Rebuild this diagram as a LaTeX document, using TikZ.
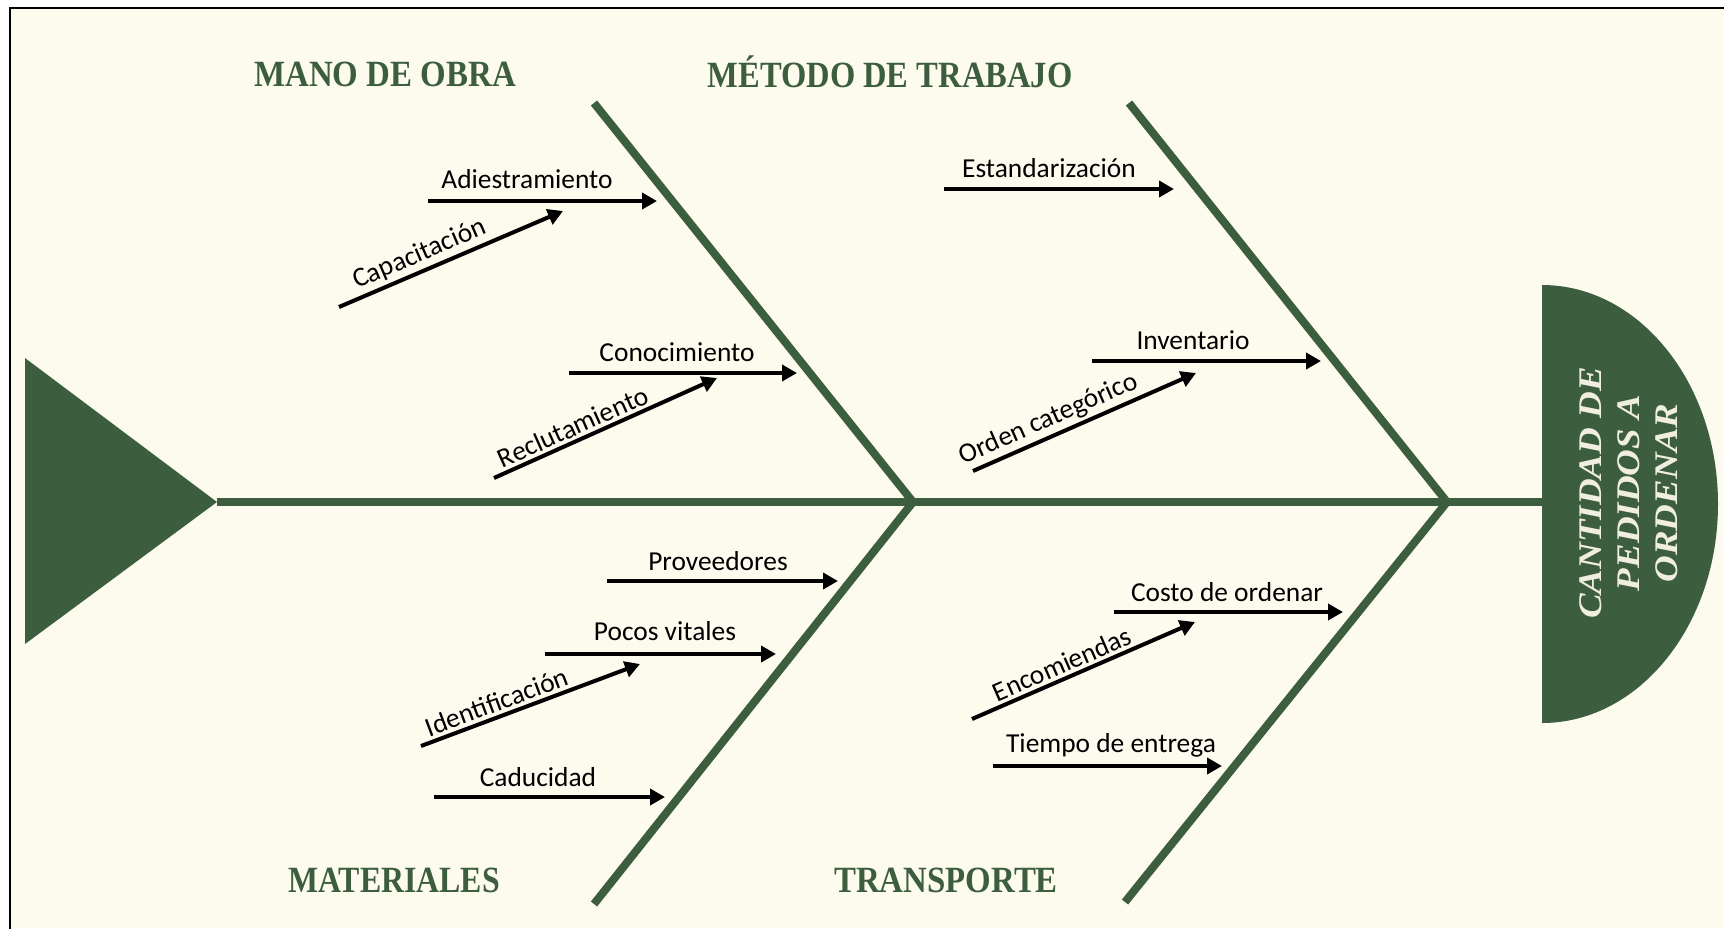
\documentclass[tikz,border=0pt]{standalone}
\usepackage{fontspec}
\setmainfont{Liberation Serif}
\newfontfamily\lblfont{Carlito}
\newfontfamily\capfont{Liberation Serif}[UprightFont={* Bold Italic}, FakeStretch=1.12]
\usetikzlibrary{arrows.meta}
\definecolor{bg}{RGB}{253,251,238}
\definecolor{fishgreen}{RGB}{60,94,62}
\definecolor{captext}{RGB}{240,238,225}
\begin{document}
\begin{tikzpicture}[x=0.5pt,y=-0.5pt,
  bone/.style={draw=fishgreen, line width=4pt},
  arr/.style={draw=black, line width=2pt, -{Triangle[length=7.5pt,width=8pt]}},
  lbl/.style={font=\lblfont\fontsize{13.7}{16}\selectfont, inner sep=0pt, anchor=base},
  slbl/.style={font=\lblfont\fontsize{13.7}{16}\selectfont, sloped, above, inner sep=1.5pt},
  cattitle/.style={font=\bfseries\fontsize{18.5}{22}\selectfont, text=fishgreen, inner sep=0pt, anchor=base}]
\useasboundingbox (0,0) rectangle (1724,928);
\fill[white] (0,0) rectangle (1724,928);
\fill[bg] (10,8) rectangle (1724,928);
\draw[line width=1pt] (10,930) -- (10,8) -- (1726,8);

% head and tail
\coordinate (tail) at (217,502);
\coordinate (head) at (1542,502);
\fill[fishgreen] (25,358) -- (tail) -- (25,644) -- cycle;
\fill[fishgreen] (1542,285) arc[start angle=90,end angle=-90,x radius=88pt,y radius=109.5pt] -- cycle;
\draw[bone] (tail) -- (head);
\node[rotate=90, align=center, text=captext, inner sep=0pt,
  font=\capfont\fontsize{16.5}{19}\selectfont] (effect) at (1629,493)
  {CANTIDAD DE\\PEDIDOS A\\ORDENAR};

% bones
\coordinate (j1) at (913,502);
\coordinate (j2) at (1447,502);
\coordinate (b1t) at (594,103);
\coordinate (b1b) at (594,904);
\coordinate (b2t) at (1129,103);
\coordinate (b2b) at (1125,902);
\draw[bone, line join=miter] (b1t) -- (j1) -- (b1b);
\draw[bone, line join=miter] (b2t) -- (j2) -- (b2b);

% titles
\node[cattitle] (t1) at (385,86) {\scalebox{0.89}[1]{MANO DE OBRA}};
\node[cattitle] (t2) at (890,87) {\scalebox{0.88}[1]{MÉTODO DE TRABAJO}};
\node[cattitle] (t3) at (394,892) {\scalebox{0.86}[1]{MATERIALES}};
\node[cattitle] (t4) at (946,892) {\scalebox{0.89}[1]{TRANSPORTE}};

% Mano de obra
\coordinate (adS) at (428,201); \coordinate (adE) at (657,201);
\draw[arr] (adS) -- (adE);
\node[lbl] (adL) at (527,188) {Adiestramiento};
\coordinate (caS) at (339,307); \coordinate (caE) at (563,211);
\draw[arr] (caS) -- (caE) node[slbl, pos=0.39] (caL) {Capacitación};
\coordinate (coS) at (569,373); \coordinate (coE) at (797,373);
\draw[arr] (coS) -- (coE);
\node[lbl] (coL) at (677,361) {Conocimiento};
\coordinate (reS) at (494,478); \coordinate (reE) at (717,378);
\draw[arr] (reS) -- (reE) node[slbl, pos=0.38] (reL) {Reclutamiento};

% Metodo de trabajo
\coordinate (esS) at (944,189); \coordinate (esE) at (1174,189);
\draw[arr] (esS) -- (esE);
\node[lbl] (esL) at (1049,177) {Estandarización};
\coordinate (inS) at (1092,361); \coordinate (inE) at (1321,361);
\draw[arr] (inS) -- (inE);
\node[lbl] (inL) at (1193,349) {Inventario};
\coordinate (orS) at (973,471); \coordinate (orE) at (1196,373);
\draw[arr] (orS) -- (orE) node[slbl, pos=0.37] (orL) {Orden categórico};

% Materiales
\coordinate (prS) at (607,581); \coordinate (prE) at (838,581);
\draw[arr] (prS) -- (prE);
\node[lbl] (prL) at (718,570) {Proveedores};
\coordinate (poS) at (545,654); \coordinate (poE) at (776,654);
\draw[arr] (poS) -- (poE);
\node[lbl] (poL) at (665,640) {Pocos vitales};
\coordinate (idS) at (421,746); \coordinate (idE) at (640,664);
\draw[arr] (idS) -- (idE) node[slbl, pos=0.37] (idL) {Identificación};
\coordinate (cdS) at (434,797); \coordinate (cdE) at (665,797);
\draw[arr] (cdS) -- (cdE);
\node[lbl] (cdL) at (538,786) {Caducidad};

% Transporte
\coordinate (cosS) at (1114,612); \coordinate (cosE) at (1343,612);
\draw[arr] (cosS) -- (cosE);
\node[lbl] (cosL) at (1227,601) {Costo de ordenar};
\coordinate (enS) at (972,719); \coordinate (enE) at (1195,622);
\draw[arr] (enS) -- (enE) node[slbl, pos=0.43] (enL) {Encomiendas};
\coordinate (tiS) at (993,766); \coordinate (tiE) at (1222,766);
\draw[arr] (tiS) -- (tiE);
\node[lbl] (tiL) at (1111,752) {Tiempo de entrega};
\end{tikzpicture}
\end{document}
